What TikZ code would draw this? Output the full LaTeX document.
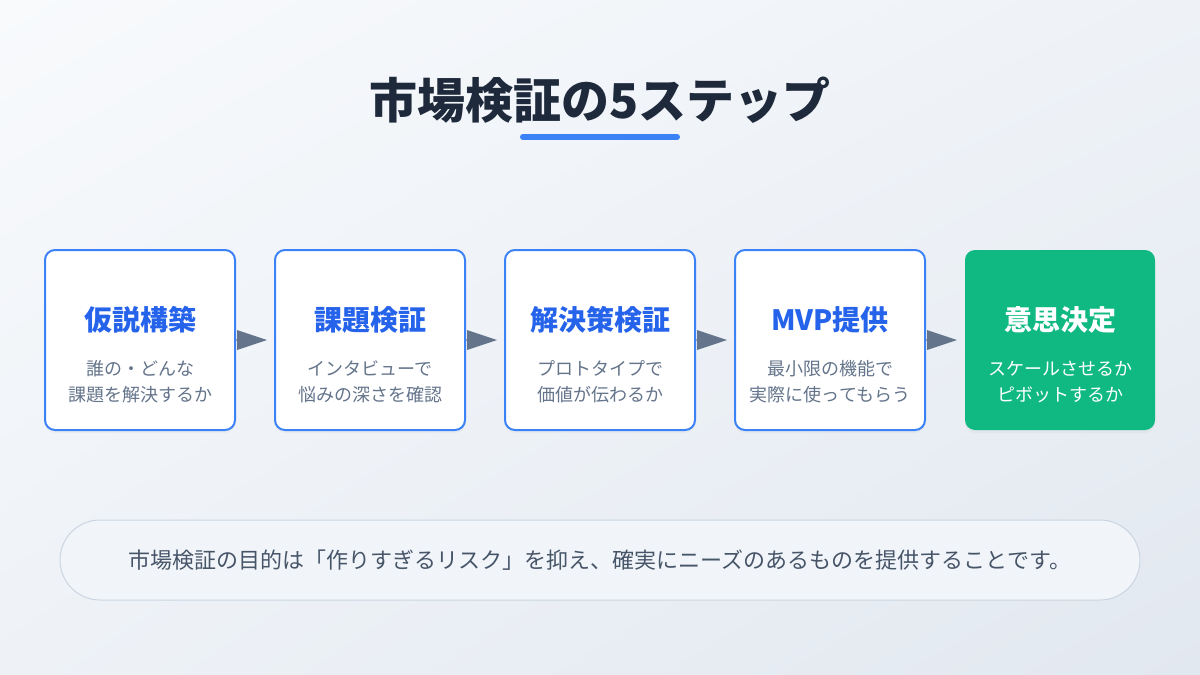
\documentclass[tikz,border=0pt]{standalone}
\usepackage{fontspec}
\setmainfont{Noto Sans CJK JP}
\usepackage{tikz}
\usetikzlibrary{arrows.meta,shadows,shadings}

\definecolor{stepblue}{HTML}{3B82F6}
\definecolor{titleblue}{HTML}{2563EB}
\definecolor{inkdark}{HTML}{1E293B}
\definecolor{inkgray}{HTML}{64748B}
\definecolor{notegray}{HTML}{475569}
\definecolor{decidegreen}{HTML}{10B981}
\definecolor{bgA}{HTML}{F8FAFC}
\definecolor{bgM}{HTML}{EEF2F7}
\definecolor{bgB}{HTML}{E2E8F0}
\definecolor{noteback}{HTML}{F1F5F9}
\definecolor{noteline}{HTML}{CBD5E1}

\begin{document}
\begin{tikzpicture}[x=1pt,y=1pt,yscale=-1,xscale=1,
  stepbox/.style={draw=stepblue, line width=2pt, fill=white, rounded corners=10pt,
    minimum width=190pt, minimum height=180pt, inner sep=0pt,
    drop shadow={opacity=0.06, shadow xshift=0pt, shadow yshift=-3pt}},
  endbox/.style={stepbox, draw=none, fill=decidegreen},
  steptitle/.style={font=\fontsize{28}{32}\selectfont\bfseries, text=titleblue, inner sep=0pt},
  stepnote/.style={font=\fontsize{18}{26}\selectfont, text=inkgray, align=center, inner sep=0pt},
  flow/.style={draw={rgb,255:red,148;green,163;blue,184}, line width=2pt,
    -{Triangle[length=30pt,width=20pt,line width=0pt,fill=inkgray,color=inkgray]}}]

%Background
\shade [upper left=bgA, upper right=bgM, lower left=bgM, lower right=bgB] (0,0) rectangle (1200,675);
\useasboundingbox (0,0) rectangle (1200,675);

% Text Node
\node (title) at (600,100) [font=\fontsize{48}{54}\selectfont\bfseries, text=inkdark, inner sep=0pt] {市場検証の5ステップ};
%Straight Lines
\draw [stepblue, line width=6pt, line cap=round] (523,137) -- (677,137);

%Shape: Step boxes
\node (hyp) at (140,340) [stepbox] {};
\node (prob) at (370,340) [stepbox] {};
\node (sol) at (600,340) [stepbox] {};
\node (mvp) at (830,340) [stepbox] {};
\node (dec) at (1060,340) [endbox] {};

% Text Node
\node (hypT) at ([yshift=-20pt]hyp.center) [steptitle] {仮説構築};
\node (hypS) at ([yshift=42pt]hyp.center) [stepnote] {誰の・どんな\\課題を解決するか};
% Text Node
\node (probT) at ([yshift=-20pt]prob.center) [steptitle] {課題検証};
\node (probS) at ([yshift=42pt]prob.center) [stepnote] {インタビューで\\悩みの深さを確認};
% Text Node
\node (solT) at ([yshift=-20pt]sol.center) [steptitle] {解決策検証};
\node (solS) at ([yshift=42pt]sol.center) [stepnote] {プロトタイプで\\価値が伝わるか};
% Text Node
\node (mvpT) at ([yshift=-20pt]mvp.center) [steptitle] {MVP提供};
\node (mvpS) at ([yshift=42pt]mvp.center) [stepnote] {最小限の機能で\\実際に使ってもらう};
% Text Node
\node (decT) at ([yshift=-20pt]dec.center) [steptitle, text=white] {意思決定};
\node (decS) at ([yshift=42pt]dec.center) [stepnote, text=white] {スケールさせるか\\ピボットするか};

%Straight Lines
\draw [flow] (hyp.east) -- ([xshift=-7pt]prob.west);
\draw [flow] (prob.east) -- ([xshift=-7pt]sol.west);
\draw [flow] (sol.east) -- ([xshift=-7pt]mvp.west);
\draw [flow] (mvp.east) -- ([xshift=-7pt]dec.west);

%Shape: Note banner
\node (note) at (600,560) [draw=noteline, line width=1pt, fill=noteback, rounded corners=40pt,
  minimum width=1080pt, minimum height=80pt, inner sep=0pt,
  font=\fontsize{22}{26}\selectfont, text=notegray]
  {市場検証の目的は「作りすぎるリスク」を抑え、確実にニーズのあるものを提供することです。};

\end{tikzpicture}
\end{document}
